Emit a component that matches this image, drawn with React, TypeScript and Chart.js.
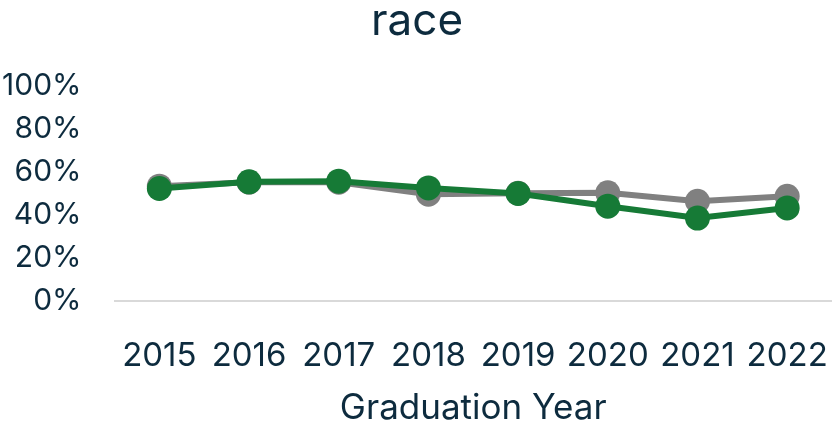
import React, { useEffect, useRef } from "react";
import { Chart, registerables } from "chart.js";

Chart.register(...registerables);

const years = ["2015", "2016", "2017", "2018", "2019", "2020", "2021", "2022"];
const graySeries = [0.535, 0.553, 0.553, 0.498, 0.502, 0.504, 0.465, 0.488];
const greenSeries = [0.524, 0.555, 0.558, 0.527, 0.501, 0.442, 0.387, 0.434];
const yTicks = [0, 0.2, 0.4, 0.6, 0.8, 1.0];

const textColor = "#0d2b3e";
const fontFamily = "Inter, 'Noto Sans', sans-serif";

export default function App() {
  const ref = useRef<HTMLCanvasElement | null>(null);
  useEffect(() => {
    document.body.style.margin = "0";
    const ctx = ref.current;
    if (!ctx) return;
    const chart = new Chart(ctx, {
      type: "line",
      data: {
        labels: years,
        datasets: [
          {
            label: "Green",
            data: greenSeries,
            borderColor: "#167a36",
            backgroundColor: "#167a36",
            borderWidth: 6,
            pointRadius: 12.5,
            pointHoverRadius: 12.5,
            pointBorderWidth: 0,
            tension: 0,
          },
          {
            label: "Gray",
            data: graySeries,
            borderColor: "#808080",
            backgroundColor: "#808080",
            borderWidth: 6,
            pointRadius: 12.5,
            pointHoverRadius: 12.5,
            pointBorderWidth: 0,
            tension: 0,
          },
        ],
      },
      options: {
        responsive: false,
        animation: false,
        layout: { autoPadding: false, padding: { left: 2, right: 0, top: 0, bottom: 0 } },
        plugins: {
          legend: { display: false },
          tooltip: { enabled: false },
          title: {
            display: true,
            text: "race",
            color: textColor,
            font: { family: fontFamily, size: 44, weight: "normal", lineHeight: 1 },
            padding: { top: 0, bottom: 42 },
          },
        },
        scales: {
          x: {
            offset: true,
            grid: { display: false, drawTicks: true, tickLength: 35 },
            border: { display: true, color: "#d9d9d9", width: 2 },
            ticks: {
              color: textColor,
              font: { family: fontFamily, size: 33 },
              padding: 0,
              maxRotation: 0,
              autoSkip: false,
            },
            title: {
              display: true,
              text: "Graduation Year",
              color: textColor,
              font: { family: fontFamily, size: 35, lineHeight: 1 },
              padding: { top: 15, bottom: 0 },
            },
          },
          y: {
            min: 0,
            max: 1,
            afterBuildTicks: (axis: any) => {
              axis.ticks = yTicks.map((v) => ({ value: v }));
            },
            grid: { display: false, drawTicks: true, tickLength: 33 },
            border: { display: false },
            ticks: {
              color: textColor,
              font: { family: fontFamily, size: 30 },
              padding: 0,
              autoSkip: false,
              callback: (v: any) => Math.round(Number(v) * 100) + "%",
            },
          },
        },
      },
    });
    return () => chart.destroy();
  }, []);
  return (
    <div style={{ width: 832, height: 426 }}>
      <canvas ref={ref} width={832} height={426} />
    </div>
  );
}
